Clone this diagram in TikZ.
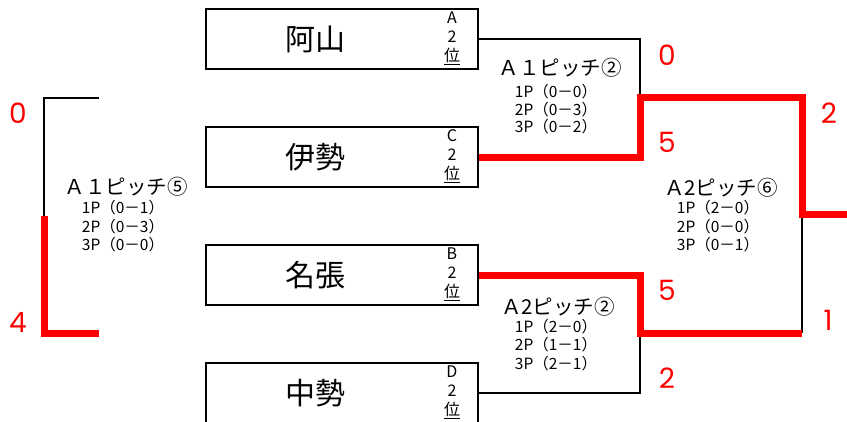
\documentclass[tikz,border=0pt]{standalone}
\usepackage{fontspec}
\newfontfamily\jp{Noto Sans CJK JP}
\newfontfamily\num{Poppins}
\begin{document}
\begin{tikzpicture}[x=1pt,y=-1pt,
  teambox/.style={draw=black,line width=2pt,minimum width=272pt,minimum height=60pt,inner sep=0pt},
  teamname/.style={font=\jp\fontsize{30}{30}\selectfont,inner sep=0pt},
  seed/.style={font=\jp\fontsize{16}{19}\selectfont,align=center,inner sep=0pt},
  matchtitle/.style={font=\jp\fontsize{20.5}{20}\selectfont,inner sep=0pt},
  scoreline/.style={font=\jp\fontsize{15.5}{15}\selectfont,inner sep=0pt},
  pts/.style={font=\num\fontsize{28}{28}\selectfont,text=red,inner sep=0pt},
  blk/.style={draw=black,line width=2pt},
  win/.style={draw=red,line width=7pt,line join=miter}]
\useasboundingbox (0,0) rectangle (847,421);
% team boxes
\node[teambox] (b1) at (342,39) {};
\node[teambox] (b2) at (342,157) {};
\node[teambox] (b3) at (342,275) {};
\node[teambox] (b4) at (342,393) {};
\node[teamname] (n1) at (315,39) {阿山};
\node[teamname] (n2) at (315,157) {伊勢};
\node[teamname] (n3) at (315,275) {名張};
\node[teamname] (n4) at (315,393) {中勢};
\node[seed] (s1) at (452,38) {A\\2\\\underline{位}};
\node[seed] (s2) at (452,156) {C\\2\\\underline{位}};
\node[seed] (s3) at (452,274) {B\\2\\\underline{位}};
\node[seed] (s4) at (452,392) {D\\2\\\underline{位}};
% junction coordinates
\coordinate (j1) at (640,97);
\coordinate (j2) at (640,333);
\coordinate (j3) at (802,214);
\coordinate (fin) at (847,214);
\coordinate (l1) at (99,98);
\coordinate (l2) at (44,216);
\coordinate (l3) at (99,333);
% losing paths
\draw[blk] (b1.east) -| (j1);
\draw[blk] (b4.east) -| (j2);
\draw[blk] (j2 -| j3) -- (j3);
\draw[blk] (l1) -| (l2);
% winning paths
\draw[win] (b2.east) -| (j1) -| (j3) -- (fin);
\draw[win] (b3.east) -| (j2) -- (j2 -| j3);
\draw[win] (l2) |- (l3);
% match labels
\node[matchtitle] (m1) at (560,68) {Ａ１ピッチ②};
\node[scoreline] (m1a) at (556,92) {1P（0－0）};
\node[scoreline] (m1b) at (556,110) {2P（0－3）};
\node[scoreline] (m1c) at (556,127) {3P（0－2）};
\node[matchtitle] (m2) at (558,307) {Ａ2ピッチ②};
\node[scoreline] (m2a) at (556,327) {1P（2－0）};
\node[scoreline] (m2b) at (556,345) {2P（1－1）};
\node[scoreline] (m2c) at (556,364) {3P（2－1）};
\node[matchtitle] (m3) at (126,187) {Ａ１ピッチ⑤};
\node[scoreline] (m3a) at (123,208) {1P（0－1）};
\node[scoreline] (m3b) at (123,227) {2P（0－3）};
\node[scoreline] (m3c) at (123,245) {3P（0－0）};
\node[matchtitle] (m4) at (721,188) {Ａ2ピッチ⑥};
\node[scoreline] (m4a) at (718,208) {1P（2－0）};
\node[scoreline] (m4b) at (718,227) {2P（0－0）};
\node[scoreline] (m4c) at (718,245) {3P（0－1）};
% scores
\node[pts] (p1) at (667,55) {0};
\node[pts] (p2) at (667,142) {5};
\node[pts] (p3) at (667,290) {5};
\node[pts] (p4) at (667,378) {2};
\node[pts] (p5) at (829,113) {2};
\node[pts] (p6) at (828,320) {1};
\node[pts] (p7) at (18,113) {0};
\node[pts] (p8) at (18,322) {4};
\end{tikzpicture}
\end{document}
